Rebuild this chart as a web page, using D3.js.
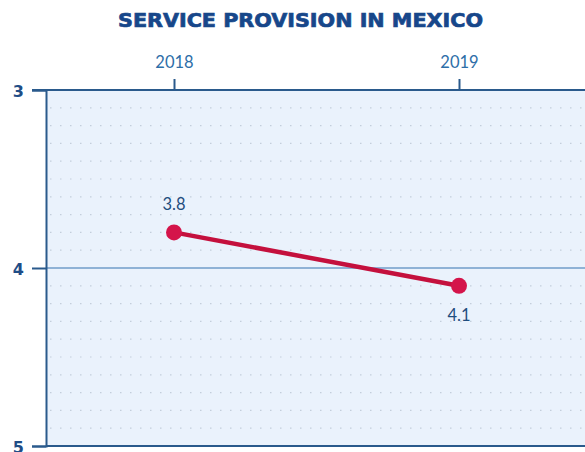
<!DOCTYPE html>
<html>
<head>
<meta charset="utf-8">
<script src="https://cdn.jsdelivr.net/npm/d3@7"></script>
<style>
  html, body { margin: 0; padding: 0; background: #ffffff; }
  svg { display: block; }
</style>
</head>
<body>
<svg id="chart" width="585" height="452"></svg>
<script>
// Survey scores for service provision, by year
const years = ["2018", "2019"];
const scores = [3.8, 4.1];
const yTicks = [3, 4, 5];
const title = "SERVICE PROVISION IN MEXICO";

const W = 585, H = 452;
const margin = { top: 90, right: 0, bottom: 6, left: 46 };
const svg = d3.select("#chart");

const x = d3.scalePoint()
  .domain(years)
  .range([174, 459]);

const y = d3.scaleLinear()
  .domain([3, 5])
  .range([margin.top, H - margin.bottom]);

// plot background
svg.append("rect")
  .attr("x", margin.left)
  .attr("y", margin.top)
  .attr("width", W - margin.left)
  .attr("height", y(5) - y(3))
  .attr("fill", "#eaf2fc");

// dotted minor grid every 0.1
const minor = d3.range(31, 50).map(d => d / 10).filter(d => Math.abs(d - 4) > 1e-9);
svg.append("g").selectAll("line")
  .data(minor)
  .join("line")
  .attr("x1", margin.left + 4)
  .attr("x2", W)
  .attr("y1", d => y(d))
  .attr("y2", d => y(d))
  .attr("stroke", "#c3cedb")
  .attr("stroke-width", 1.2)
  .attr("stroke-dasharray", "1.5,8.5");

// solid reference line at 4
svg.append("line")
  .attr("x1", margin.left)
  .attr("x2", W)
  .attr("y1", y(4))
  .attr("y2", y(4))
  .attr("stroke", "#8fb2d6")
  .attr("stroke-width", 2);

// left axis
const yAxis = d3.axisLeft(y).tickValues(yTicks).tickSize(14).tickPadding(8).tickFormat(d3.format("d"));
const gy = svg.append("g").attr("transform", `translate(${margin.left},0)`).call(yAxis);
gy.select(".domain").attr("stroke", "#2a5a8c").attr("stroke-width", 2);
gy.selectAll(".tick line").attr("stroke", "#2a5a8c").attr("stroke-width", 2);
gy.selectAll(".tick text")
  .attr("fill", "#1f4d86")
  .attr("font-family", "'DejaVu Sans', sans-serif")
  .attr("font-weight", "bold")
  .attr("font-size", 16)
  .attr("dy", "0.42em");

// top axis
const xAxis = d3.axisTop(x).tickSize(11).tickPadding(11);
const gx = svg.append("g").attr("transform", `translate(0,${margin.top})`).call(xAxis);
gx.select(".domain").remove();
gx.append("line")
  .attr("x1", margin.left - 14)
  .attr("x2", W)
  .attr("stroke", "#2a5a8c")
  .attr("stroke-width", 2);
gx.selectAll(".tick line").attr("stroke", "#2a5a8c").attr("stroke-width", 2);
gx.selectAll(".tick text")
  .attr("fill", "#2d6ea8")
  .attr("font-family", "'Lato', sans-serif")
  .attr("font-size", 16.5);

// bottom border
svg.append("line")
  .attr("x1", margin.left)
  .attr("x2", W)
  .attr("y1", y(5))
  .attr("y2", y(5))
  .attr("stroke", "#2a5a8c")
  .attr("stroke-width", 2);

// series line and points
const pts = years.map((yr, i) => ({ yr, v: scores[i] }));
svg.append("path")
  .datum(pts)
  .attr("fill", "none")
  .attr("stroke", "#c4103d")
  .attr("stroke-width", 4.5)
  .attr("d", d3.line().x(d => x(d.yr)).y(d => y(d.v)));

svg.append("g").selectAll("circle")
  .data(pts)
  .join("circle")
  .attr("cx", d => x(d.yr))
  .attr("cy", d => y(d.v))
  .attr("r", 8)
  .attr("fill", "#d4144a");

// value labels: above for the first point, below for the second
svg.append("g").selectAll("text")
  .data(pts)
  .join("text")
  .attr("x", d => x(d.yr))
  .attr("y", (d, i) => i === 0 ? y(d.v) - 22 : y(d.v) + 35)
  .attr("text-anchor", "middle")
  .attr("fill", "#1f4d7e")
  .attr("font-family", "'Lato', sans-serif")
  .attr("font-size", 16.5)
  .text(d => d.v.toFixed(1));

// title
svg.append("text")
  .attr("x", 300.5)
  .attr("y", 27)
  .attr("text-anchor", "middle")
  .attr("fill", "#17478a")
  .attr("stroke", "#17478a")
  .attr("stroke-width", 0.7)
  .attr("font-family", "'DejaVu Sans', sans-serif")
  .attr("font-weight", "bold")
  .attr("font-size", 19)
  .attr("textLength", 365)
  .attr("lengthAdjust", "spacingAndGlyphs")
  .text(title);
</script>
</body>
</html>
